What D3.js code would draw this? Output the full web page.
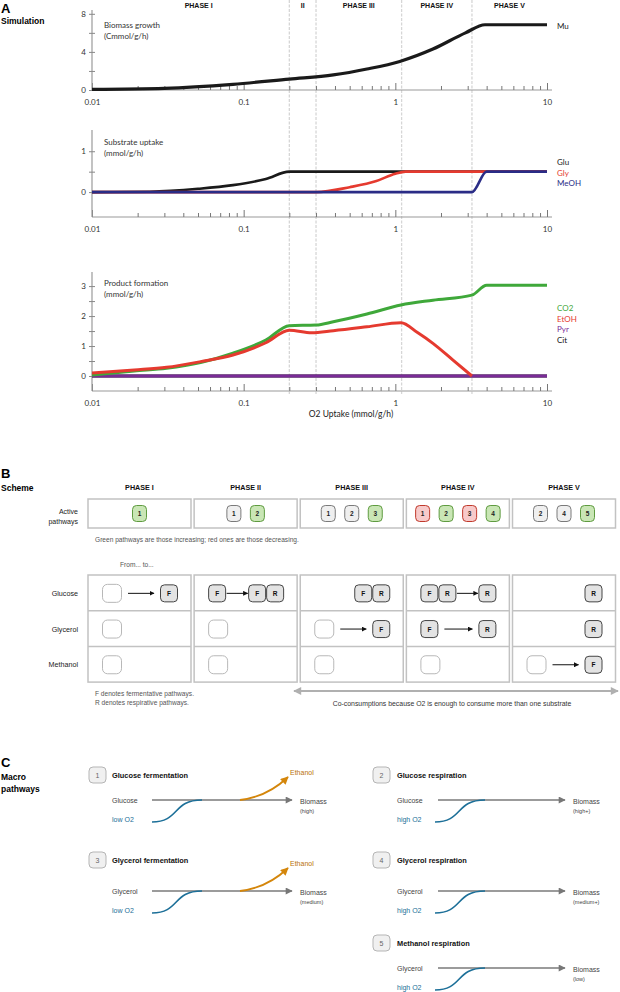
<!DOCTYPE html>
<html>
<head>
<meta charset="utf-8">
<script src="https://cdn.jsdelivr.net/npm/d3@7"></script>
<style>
  body { margin: 0; background: #fff; }
  svg { display: block; }
</style>
</head>
<body>
<svg id="fig" width="620" height="992"></svg>
<script>
// ---------- Panel A data (O2 uptake, value) ----------
const phaseNames = ['PHASE I', 'II', 'PHASE III', 'PHASE IV', 'PHASE V'];
const phaseBounds = [0.2, 0.3, 1.1, 3.2];
const xMajorTicks = [0.01, 0.1, 1, 10];

const muSeries = [[0.01, 0.07], [0.03, 0.18], [0.085, 0.6], [0.2, 1.15], [0.39, 1.58], [0.65, 2.2],
  [1.07, 3.0], [1.77, 4.3], [2.9, 6.0], [3.9, 6.85], [10, 6.85]];

const gluSeries = [[0.01, 0], [0.024, 0.01], [0.05, 0.08], [0.085, 0.17], [0.14, 0.32], [0.2, 0.5], [10, 0.5]];
const glySeries = [[0.01, 0], [0.3, 0], [0.5, 0.12], [0.75, 0.27], [1.0, 0.45], [1.17, 0.5], [10, 0.5]];
const meohSeries = [[0.01, 0], [3.2, 0], [4.0, 0.5], [10, 0.5]];

const co2Series = [[0.01, 0.03], [0.019, 0.17], [0.031, 0.26], [0.052, 0.45], [0.085, 0.76], [0.14, 1.2],
  [0.2, 1.68], [0.3, 1.7], [0.39, 1.81], [0.65, 2.07], [1.09, 2.37], [1.77, 2.53], [3.2, 2.7], [4.0, 3.03], [10, 3.03]];
const etohSeries = [[0.01, 0.1], [0.019, 0.2], [0.031, 0.29], [0.052, 0.48], [0.085, 0.7], [0.14, 1.11],
  [0.2, 1.53], [0.28, 1.44], [0.39, 1.51], [0.65, 1.64], [1.09, 1.78], [1.4, 1.45], [1.77, 1.09], [2.4, 0.53], [3.2, 0]];
const pyrSeries = [[0.01, 0], [10, 0]];
const citSeries = [[0.01, 0], [10, 0]];

// ---------- Panel B data ----------
const schemePhases = ['PHASE I', 'PHASE II', 'PHASE III', 'PHASE IV', 'PHASE V'];
const activeIds = [[1], [1, 2], [1, 2, 3], [1, 2, 3, 4], [2, 4, 5]];
const activeTrend = [['up'], ['flat', 'up'], ['flat', 'flat', 'up'], ['down', 'up', 'down', 'up'], ['flat', 'flat', 'up']];
const substrates = ['Glucose', 'Glycerol', 'Methanol'];
// per substrate, per phase: [from, to]; '' is an empty slot
const transitions = [
  [[[''], ['F']], [['F'], ['F', 'R']], [[], ['F', 'R']], [['F', 'R'], ['R']], [[], ['R']]],
  [[[''], []], [[''], []], [[''], ['F']], [['F'], ['R']], [[], ['R']]],
  [[[''], []], [[''], []], [[''], []], [[''], []], [[''], ['F']]]
];

// ---------- Panel C data ----------
const macroIds = [1, 2, 3, 4, 5];
const macroTitles = ['Glucose fermentation', 'Glucose respiration', 'Glycerol fermentation', 'Glycerol respiration', 'Methanol respiration'];
const macroSubstrates = ['Glucose', 'Glucose', 'Glycerol', 'Glycerol', 'Glycerol'];
const macroO2 = ['low O2', 'high O2', 'low O2', 'high O2', 'high O2'];
const macroBiomass = ['(high)', '(high+)', '(medium)', '(medium+)', '(low)'];
const macroEthanol = [true, false, true, false, false];

const HEL = '"Liberation Sans", Arial, sans-serif';
const MYR = 'Lato, "Open Sans", sans-serif';

const svg = d3.select('#fig');
const defs = svg.append('defs');

const addMarker = (id, color, w, h) => {
  defs.append('marker')
    .attr('id', id)
    .attr('viewBox', '0 0 10 10')
    .attr('refX', 9).attr('refY', 5)
    .attr('markerUnits', 'userSpaceOnUse')
    .attr('markerWidth', w).attr('markerHeight', h)
    .attr('orient', 'auto-start-reverse')
    .append('path')
    .attr('d', 'M0,0L10,5L0,10Z')
    .attr('fill', color);
};
addMarker('arrBlack', '#111', 5, 5);
addMarker('arrGray', '#777', 8, 7);
addMarker('arrOrange', '#d4860b', 8, 8);
addMarker('arrLight', '#b0b0b0', 9, 8);

const txt = (g, x, y, s, o = {}) => g.append('text')
  .attr('x', x).attr('y', y)
  .attr('font-family', o.family || HEL)
  .attr('font-size', o.size || 7)
  .attr('font-weight', o.weight || 'normal')
  .attr('fill', o.fill || '#222')
  .attr('text-anchor', o.anchor || 'start')
  .text(s);

// ================= PANEL A =================
const x = d3.scaleLog().domain([0.01, 10]).range([92, 547]);
const panelA = svg.append('g');

txt(panelA, 1, 13, 'A', { size: 13, weight: 'bold', fill: '#000' });
txt(panelA, 1, 24, 'Simulation', { size: 8.5, weight: 'bold', fill: '#000' });

// phase separators
panelA.append('g')
  .selectAll('line')
  .data(phaseBounds)
  .join('line')
  .attr('x1', (d) => x(d)).attr('x2', (d) => x(d))
  .attr('y1', 0).attr('y2', 394)
  .attr('stroke', '#d6d6d6')
  .attr('stroke-width', 1.3)
  .attr('stroke-dasharray', '3,1.5');

const phaseEdges = [0.01, ...phaseBounds, 10];
panelA.append('g')
  .selectAll('text')
  .data(phaseNames)
  .join('text')
  .attr('x', (d, i) => x(Math.sqrt(phaseEdges[i] * phaseEdges[i + 1])) + (i === 0 ? 8 : 0))
  .attr('y', 8)
  .attr('text-anchor', 'middle')
  .attr('font-family', HEL)
  .attr('font-size', 7)
  .attr('font-weight', 'bold')
  .attr('fill', '#111')
  .text((d) => d);

const charts = [
  {
    lo: 0, hi: 8.4, top: 10, bottom: 90, ticks: [0, 2, 4, 6, 8], labeled: [0, 4, 8],
    title: ['Biomass growth', '(Cmmol/g/h)'], titleY: 28, width: 3.2, legendY: 29,
    series: [{ name: 'Mu', color: '#1a1a1a', pts: muSeries, legendColor: '#222' }]
  },
  {
    lo: -0.61, hi: 1.52, top: 130, bottom: 217, ticks: [0, 0.5, 1], labeled: [0, 1],
    title: ['Substrate uptake', '(mmol/g/h)'], titleY: 145, width: 2.6, legendY: 165,
    series: [
      { name: 'Glu', color: '#1a1a1a', pts: gluSeries },
      { name: 'Gly', color: '#e53a2f', pts: glySeries },
      { name: 'MeOH', color: '#2a2c86', pts: meohSeries }
    ]
  },
  {
    lo: -0.5, hi: 3.47, top: 272, bottom: 391, ticks: [0, 0.5, 1, 1.5, 2, 2.5, 3], labeled: [0, 1, 2, 3],
    title: ['Product formation', '(mmol/g/h)'], titleY: 286, width: 3, legendY: 311,
    series: [
      { name: 'CO2', color: '#3fa83a', pts: co2Series, order: 2 },
      { name: 'EtOH', color: '#e53a2f', pts: etohSeries, order: 3 },
      { name: 'Pyr', color: '#7a2b97', pts: pyrSeries, order: 1 },
      { name: 'Cit', color: '#111', pts: citSeries, order: 0 }
    ]
  }
];

charts.forEach((c) => {
  const y = d3.scaleLinear().domain([c.lo, c.hi]).range([c.bottom, c.top]);
  const g = panelA.append('g');

  // x axis
  const xAxisY = c.bottom;
  g.append('line')
    .attr('x1', x(0.01)).attr('x2', x(10) + 5)
    .attr('y1', xAxisY).attr('y2', xAxisY)
    .attr('stroke', '#9a9a9a').attr('stroke-width', 1.2);
  const minor = x.ticks().filter((t) => !xMajorTicks.includes(t));
  g.append('g')
    .attr('transform', `translate(0,${xAxisY})`)
    .call(d3.axisBottom(x).tickValues(minor).tickSize(-4).tickFormat(''))
    .call((s) => s.select('.domain').remove())
    .call((s) => s.selectAll('line').attr('stroke', '#777'));
  g.append('g')
    .attr('transform', `translate(0,${xAxisY})`)
    .call(d3.axisBottom(x).tickValues(xMajorTicks).tickSize(-7).tickPadding(9)
      .tickFormat((d) => String(d)))
    .call((s) => s.select('.domain').remove())
    .call((s) => s.selectAll('line').attr('stroke', '#777'))
    .call((s) => s.selectAll('text')
      .attr('font-family', MYR).attr('font-size', 8).attr('fill', '#333'));

  // y axis
  g.append('line')
    .attr('x1', x(0.01)).attr('x2', x(0.01))
    .attr('y1', c.top).attr('y2', c.bottom)
    .attr('stroke', '#9a9a9a').attr('stroke-width', 1.2);
  g.append('g')
    .attr('transform', `translate(${x(0.01)},0)`)
    .call(d3.axisLeft(y).tickValues(c.ticks).tickSize(3).tickPadding(3)
      .tickFormat((d) => (c.labeled.includes(d) ? String(d) : '')))
    .call((s) => s.select('.domain').remove())
    .call((s) => s.selectAll('line').attr('stroke', '#888').attr('x2', 3).attr('x1', -3))
    .call((s) => s.selectAll('text')
      .attr('font-family', MYR).attr('font-size', 8).attr('fill', '#333'));

  // title
  txt(g, 104, c.titleY, c.title[0], { family: MYR, size: 8, fill: '#333' });
  txt(g, 104, c.titleY + 11, c.title[1], { family: MYR, size: 8, fill: '#333' });

  const line = d3.line()
    .x((d) => x(d[0]))
    .y((d) => y(d[1]))
    .curve(d3.curveMonotoneX);

  const drawOrder = c.series.slice().sort((a, b) => (a.order ?? 0) - (b.order ?? 0));
  g.append('g')
    .selectAll('path')
    .data(drawOrder)
    .join('path')
    .attr('fill', 'none')
    .attr('stroke', (d) => d.color)
    .attr('stroke-width', c.width)
    .attr('stroke-linejoin', 'round')
    .attr('d', (d) => line(d.pts));

  g.append('g')
    .selectAll('text')
    .data(c.series)
    .join('text')
    .attr('x', 557)
    .attr('y', (d, i) => c.legendY + i * 10.6)
    .attr('font-family', MYR)
    .attr('font-size', 8)
    .attr('fill', (d) => d.legendColor || d.color)
    .text((d) => d.name);
});

txt(panelA, 351, 417, 'O2 Uptake (mmol/g/h)', { family: MYR, size: 8.5, fill: '#222', anchor: 'middle' });

// ================= PANEL B =================
const panelB = svg.append('g');
txt(panelB, 1, 478, 'B', { size: 13, weight: 'bold', fill: '#000' });
txt(panelB, 1, 491, 'Scheme', { size: 8.5, weight: 'bold', fill: '#000' });

const colX = d3.scaleLinear().domain([0, 4]).range([88, 512.5]);
const colW = 103;
const boxStroke = '#c2c2c2';

panelB.append('g')
  .selectAll('text')
  .data(schemePhases)
  .join('text')
  .attr('x', (d, i) => colX(i) + colW / 2)
  .attr('y', 490)
  .attr('text-anchor', 'middle')
  .attr('font-family', HEL).attr('font-size', 7.2).attr('font-weight', 'bold')
  .attr('fill', '#111')
  .text((d) => d);

txt(panelB, 78, 514, 'Active', { size: 7, anchor: 'end' });
txt(panelB, 78, 524, 'pathways', { size: 7, anchor: 'end' });

const trendFill = { up: '#c9e6b5', flat: '#efefef', down: '#f7caca' };
const trendStroke = { up: '#5f9b40', flat: '#7a7a7a', down: '#c0392b' };

activeIds.forEach((ids, i) => {
  const g = panelB.append('g');
  g.append('rect')
    .attr('x', colX(i)).attr('y', 499)
    .attr('width', colW).attr('height', 29)
    .attr('fill', '#fff').attr('stroke', boxStroke).attr('stroke-width', 1.5);
  const cx = colX(i) + colW / 2;
  const step = 23.5;
  const bg = g.selectAll('g.badge')
    .data(ids)
    .join('g')
    .attr('class', 'badge')
    .attr('transform', (d, k) => `translate(${cx + (k - (ids.length - 1) / 2) * step},513.5)`);
  bg.append('rect')
    .attr('x', -7).attr('y', -8).attr('width', 14).attr('height', 16).attr('rx', 4)
    .attr('fill', (d, k) => trendFill[activeTrend[i][k]])
    .attr('stroke', (d, k) => trendStroke[activeTrend[i][k]])
    .attr('stroke-width', 1);
  bg.append('text')
    .attr('y', 2.5).attr('text-anchor', 'middle')
    .attr('font-family', HEL).attr('font-size', 6.5).attr('font-weight', 'bold')
    .attr('fill', '#222')
    .text((d) => d);
});

txt(panelB, 95, 542, 'Green pathways are those increasing; red ones are those decreasing.', { size: 6.6, fill: '#555' });
txt(panelB, 120, 567, 'From... to...', { size: 6.6, fill: '#555' });

const gridTop = 575;
const rowH = 35.7;
substrates.forEach((s, r) => {
  txt(panelB, 78, gridTop + rowH * r + 21, s, { size: 7.2, anchor: 'end' });
});

const slotW = (k) => (k === '' ? 20 : 18);
const slotH = (k) => (k === '' ? 18 : 17);

schemePhases.forEach((p, i) => {
  const g = panelB.append('g');
  const x0 = colX(i);
  g.append('rect')
    .attr('x', x0).attr('y', gridTop)
    .attr('width', colW).attr('height', rowH * 3)
    .attr('fill', '#fff').attr('stroke', boxStroke).attr('stroke-width', 1.5);
  [1, 2].forEach((r) => {
    g.append('line')
      .attr('x1', x0).attr('x2', x0 + colW)
      .attr('y1', gridTop + rowH * r).attr('y2', gridTop + rowH * r)
      .attr('stroke', boxStroke).attr('stroke-width', 1.5);
  });

  substrates.forEach((s, r) => {
    const [from, to] = transitions[r][i];
    const cy = gridTop + rowH * r + rowH / 2 + 0.5;
    const items = [];
    let cursor = x0 + 14;
    from.forEach((k) => { items.push({ k, x: cursor }); cursor += slotW(k); });
    const fromEnd = cursor;
    const toWidth = d3.sum(to, slotW);
    let tcur = x0 + 90 - toWidth;
    const toStart = tcur;
    to.forEach((k) => { items.push({ k, x: tcur }); tcur += slotW(k); });

    if (from.length && to.length) {
      const gap = toStart - fromEnd > 30 ? 6 : 0.5;
      g.append('line')
        .attr('x1', fromEnd + gap).attr('x2', toStart - gap)
        .attr('y1', cy).attr('y2', cy)
        .attr('stroke', '#111').attr('stroke-width', 1)
        .attr('marker-end', 'url(#arrBlack)');
    }

    const ig = g.selectAll(null)
      .data(items)
      .join('g')
      .attr('transform', (d) => `translate(${d.x},${cy})`);
    ig.append('rect')
      .attr('x', 0.5)
      .attr('y', (d) => -slotH(d.k) / 2)
      .attr('width', (d) => slotW(d.k) - 1)
      .attr('height', (d) => slotH(d.k))
      .attr('rx', (d) => (d.k === '' ? 5 : 4))
      .attr('fill', (d) => (d.k === '' ? '#fff' : '#e3e3e3'))
      .attr('stroke', (d) => (d.k === '' ? '#b8b8b8' : '#444'))
      .attr('stroke-width', 1);
    ig.filter((d) => d.k !== '')
      .append('text')
      .attr('x', (d) => slotW(d.k) / 2)
      .attr('y', 2.5)
      .attr('text-anchor', 'middle')
      .attr('font-family', HEL).attr('font-size', 6.5).attr('font-weight', 'bold')
      .attr('fill', '#111')
      .text((d) => d.k);
  });
});

txt(panelB, 95, 696, 'F denotes fermentative pathways.', { size: 6.6, fill: '#555' });
txt(panelB, 95, 705, 'R denotes respirative pathways.', { size: 6.6, fill: '#555' });

panelB.append('line')
  .attr('x1', 294).attr('x2', 618)
  .attr('y1', 691).attr('y2', 691)
  .attr('stroke', '#b0b0b0').attr('stroke-width', 2.2)
  .attr('marker-start', 'url(#arrLight)')
  .attr('marker-end', 'url(#arrLight)');
txt(panelB, 452, 706, 'Co-consumptions because O2 is enough to consume more than one substrate', { size: 6.9, fill: '#333', anchor: 'middle' });

// ================= PANEL C =================
const panelC = svg.append('g');
txt(panelC, 1, 767, 'C', { size: 13, weight: 'bold', fill: '#000' });
txt(panelC, 1, 780, 'Macro', { size: 8.5, weight: 'bold', fill: '#000' });
txt(panelC, 1, 792, 'pathways', { size: 8.5, weight: 'bold', fill: '#000' });

const macroSlots = [[0, 0], [1, 0], [0, 1], [1, 1], [1, 2]];
const cCols = [
  { badge: 89, text: 112, a0: 152, a1: 292, bio: 300, curve0: 152 },
  { badge: 373, text: 397, a0: 438, a1: 565, bio: 573, curve0: 435 }
];
const cRows = [{ top: 767, ay: 800 }, { top: 852, ay: 891 }, { top: 935, ay: 968 }];
const o2Blue = '#1c6f98';

macroIds.forEach((id, i) => {
  const col = cCols[macroSlots[i][0]];
  const row = cRows[macroSlots[i][1]];
  const g = panelC.append('g');
  g.append('rect')
    .attr('x', col.badge).attr('y', row.top)
    .attr('width', 17).attr('height', 16).attr('rx', 4)
    .attr('fill', '#f0f0f0').attr('stroke', '#b5b5b5').attr('stroke-width', 1);
  txt(g, col.badge + 8.5, row.top + 10.5, id, { size: 7, fill: '#666', anchor: 'middle' });
  txt(g, col.text, row.top + 10.5, macroTitles[i], { size: 7.4, weight: 'bold', fill: '#111' });

  const ay = row.ay;
  txt(g, col.text, ay + 2.5, macroSubstrates[i], { size: 7, fill: '#444' });
  txt(g, col.text, ay + 22, macroO2[i], { size: 7, fill: o2Blue });

  g.append('line')
    .attr('x1', col.a0).attr('x2', col.a1)
    .attr('y1', ay).attr('y2', ay)
    .attr('stroke', '#7a7a7a').attr('stroke-width', 1.5)
    .attr('marker-end', 'url(#arrGray)');

  const c0 = col.curve0;
  g.append('path')
    .attr('d', `M${c0},${ay + 22}C${c0 + 28},${ay + 22} ${c0 + 20},${ay} ${c0 + 50},${ay}`)
    .attr('fill', 'none').attr('stroke', o2Blue).attr('stroke-width', 1.6);

  txt(g, col.bio, ay + 4, 'Biomass', { size: 7, fill: '#444' });
  txt(g, col.bio, ay + 13, macroBiomass[i], { size: 5.5, fill: '#444' });

  if (macroEthanol[i]) {
    g.append('path')
      .attr('d', `M${c0 + 88},${ay}Q${c0 + 115},${ay - 3} ${c0 + 136},${ay - 23}`)
      .attr('fill', 'none').attr('stroke', '#d4860b').attr('stroke-width', 1.8)
      .attr('marker-end', 'url(#arrOrange)');
    txt(g, c0 + 138, ay - 25, 'Ethanol', { size: 7, fill: '#b8700a' });
  }
});
</script>
</body>
</html>
